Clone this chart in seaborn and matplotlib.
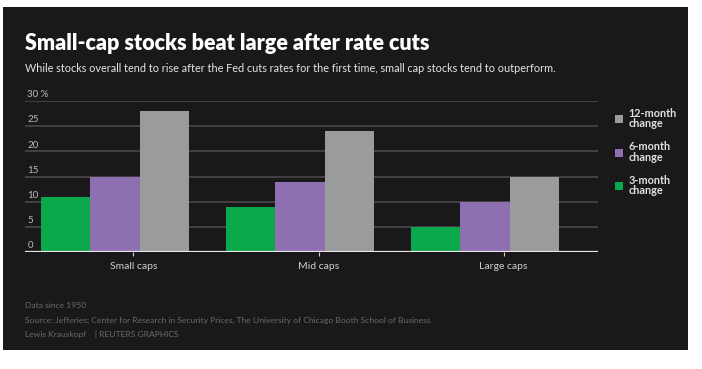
import pandas as pd
import seaborn as sns
import matplotlib.pyplot as plt
from matplotlib.patches import Rectangle, Patch

# Data
categories = ['Small caps', 'Mid caps', 'Large caps']
series = ['3-month\nchange', '6-month\nchange', '12-month\nchange']
three_month = [11, 9, 5]
six_month = [15, 14, 10]
twelve_month = [28, 24, 15]
colors = ['#0aa84a', '#8e6fb1', '#9a9b9d']
y_ticks = [0, 5, 10, 15, 20, 25, 30]

df = pd.DataFrame({
    'category': categories * 3,
    'series': [series[0]] * 3 + [series[1]] * 3 + [series[2]] * 3,
    'value': three_month + six_month + twelve_month,
})

bg = '#1a181b'
sns.set_theme(style='dark')
plt.rcParams['font.family'] = ['Lato', 'DejaVu Sans']

fig = plt.figure(figsize=(7.02, 3.69), dpi=100, facecolor='white')
fig.patches.append(Rectangle((3 / 702, 19 / 369), 685 / 702, 343 / 369,
                             transform=fig.transFigure, facecolor=bg,
                             edgecolor='none', zorder=-5))

ax = fig.add_axes([25 / 702, 117 / 369, 573 / 702, 151 / 369])
ax.set_facecolor(bg)

sns.barplot(data=df, x='category', y='value', hue='series', hue_order=series,
            palette=colors, width=0.8, saturation=1, ax=ax, legend=False,
            edgecolor='none', zorder=3)

ax.set_xlim(-0.486, 2.61)
ax.set_ylim(0, 30)
for s in ax.spines.values():
    s.set_visible(False)

# gridlines and baseline
for t in y_ticks[1:]:
    ax.axhline(t, color='#4d4c4f', lw=1.1, zorder=1)
ax.axhline(0, color='#e6e6e6', lw=1.6, zorder=4)

# y labels sit on top of gridlines
ax.set_yticks([])
for t in y_ticks:
    lab = f'{t} %' if t == 30 else str(t)
    ax.text(0.004, t + 0.35, lab, transform=ax.get_yaxis_transform(),
            color='#bdbdbd', fontsize=7, va='bottom', ha='left')

ax.set_xticks([i + 0.1 for i in range(len(categories))])
ax.set_xticklabels(categories)
ax.tick_params(axis='x', colors='#cfcfcf', labelsize=7.5, length=3, width=0.8,
               direction='out', bottom=True, pad=4)
ax.set_xlabel('')
ax.set_ylabel('')

# legend, reversed order
handles = [Patch(facecolor=c, edgecolor='none') for c in colors][::-1]
leg = fig.legend(handles, series[::-1], loc='upper left',
                 bbox_to_anchor=(605 / 702, (369 - 98) / 369),
                 frameon=False, handlelength=0.75, handleheight=0.75,
                 handletextpad=0.5, labelspacing=1.1, fontsize=7.8)
for txt in leg.get_texts():
    txt.set_color('#e0e0e0')
    txt.set_fontweight('bold')
    txt.set_linespacing(0.95)

# titles
fig.text(25 / 702, 1 - 44 / 369, 'Small-cap stocks beat large after rate cuts',
         color='white', fontsize=15.5, fontweight='heavy', va='center')
fig.text(25 / 702, 1 - 69 / 369,
         'While stocks overall tend to rise after the Fed cuts rates for the first time, '
         'small cap stocks tend to outperform.',
         color='#e6e6e6', fontsize=7.8, va='center')

# footer
foot = '#6b6b6b'
fig.text(25 / 702, 1 - 306 / 369, 'Data since 1950', color=foot, fontsize=6.1, va='center')
fig.text(25 / 702, 1 - 320 / 369,
         'Source: Jefferies; Center for Research in Security Prices, '
         'The University of Chicago Booth School of Business',
         color=foot, fontsize=6.1, va='center')
fig.text(25 / 702, 1 - 334 / 369, 'Lewis Krauskopf    | REUTERS GRAPHICS',
         color=foot, fontsize=6.1, va='center')

plt.savefig('out.png', dpi=100, facecolor='white')
plt.close()
